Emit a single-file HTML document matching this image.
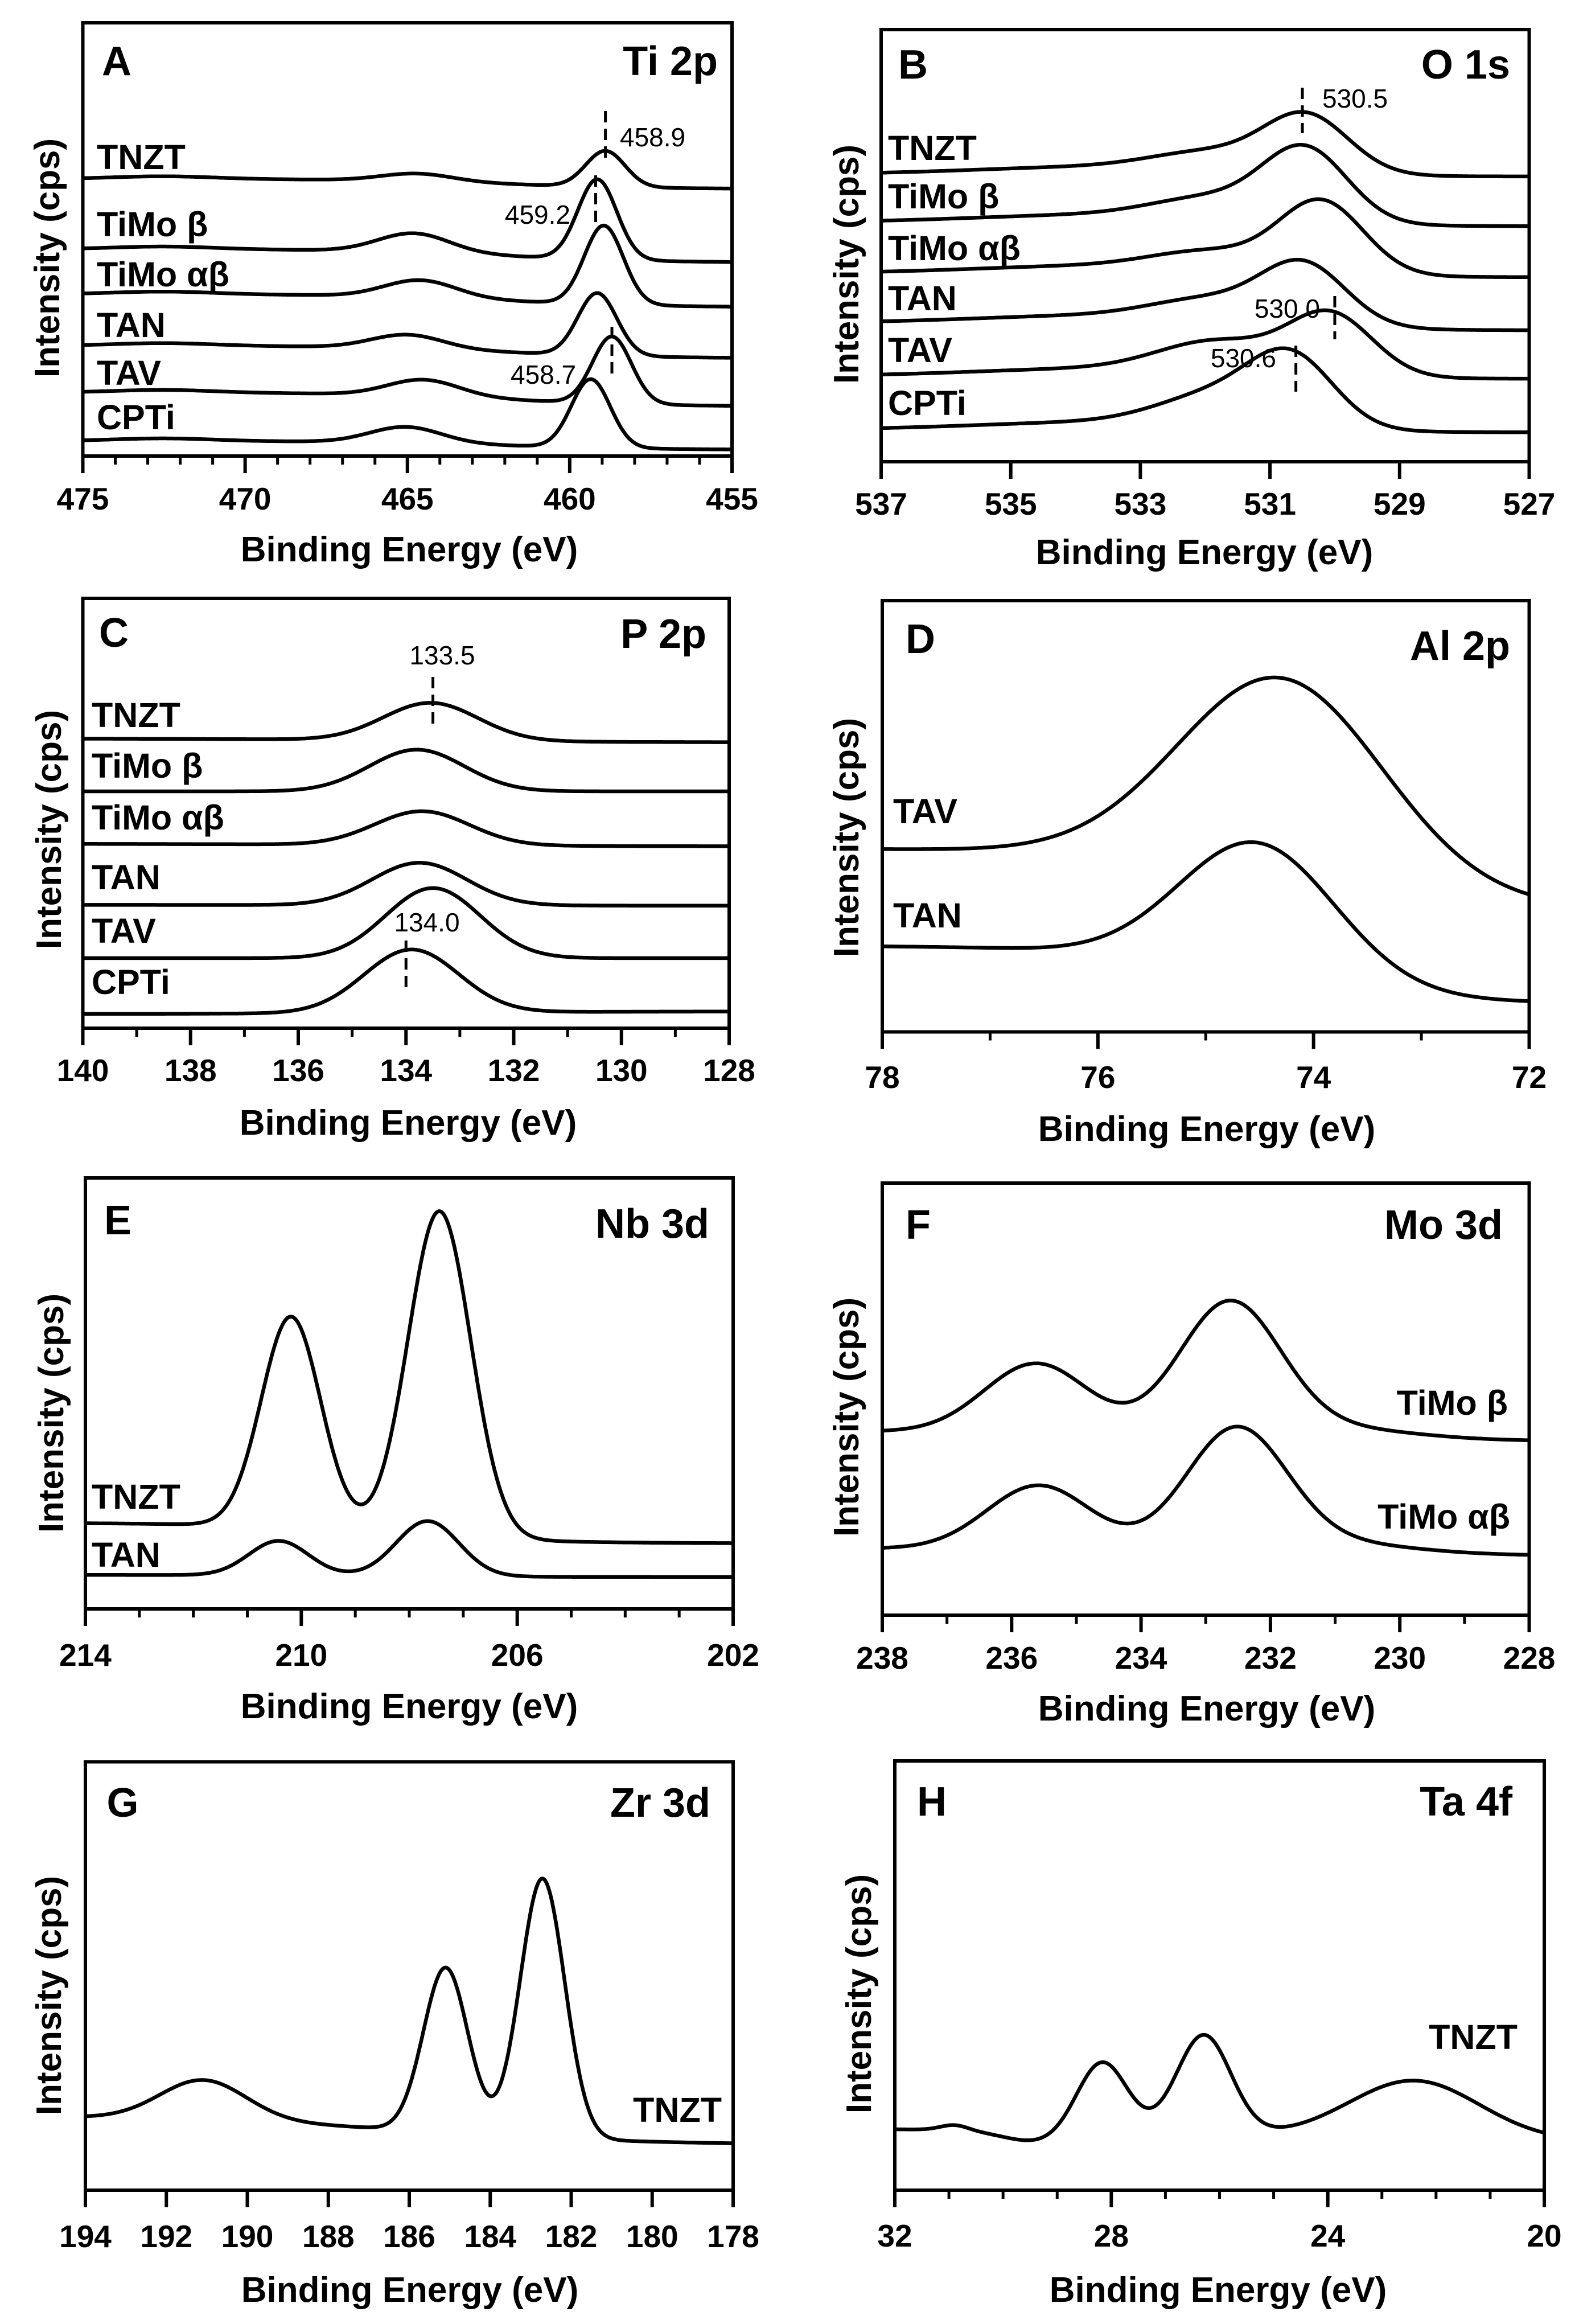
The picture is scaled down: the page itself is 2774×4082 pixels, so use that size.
<!DOCTYPE html>
<html><head><meta charset="utf-8"><style>
html,body{margin:0;padding:0;background:#fff}
svg{display:block}
text{font-family:"Liberation Sans",Arial,sans-serif;fill:#000}
</style></head><body>
<svg id="fig" xmlns="http://www.w3.org/2000/svg" width="2774" height="4082" viewBox="0 0 2774 4082"></svg>
<script>
// ---------- Panel A: Ti 2p ----------
const tiSeries = ["TNZT","TiMo β","TiMo αβ","TAN","TAV","CPTi"];
const tiBaseLeft = [64.0,47.8,37.4,25.5,14.7,3.5];
const tiBaseRight = [61.6,44.6,34.3,22.5,11.4,1.4];
const tiMainPos = [458.9,459.15,458.95,459.15,458.7,459.35];
const tiMainHeight = [8.3,18.5,18.2,14.4,15.5,15.8];
const tiSatPos = [464.7,464.8,464.6,465.0,464.5,465.05];
const tiSatHeight = [1.8,4.4,4.0,3.2,3.8,3.7];
const tiTicks = [475,470,465,460,455];
// ---------- Panel B: O 1s ----------
const oSeries = ["TNZT","TiMo β","TiMo αβ","TAN","TAV","CPTi"];
const oBaseLeft = [66.5,55.4,43.6,32.1,19.8,7.4];
const oBaseRight = [66.0,54.5,42.7,30.4,19.2,6.8];
const oMainPos = [530.43,530.45,530.2,530.47,530.06,530.65];
const oMainHeight = [13.0,16.5,16.5,13.5,14.0,15.0];
const oShoulderPos = [531.9,531.9,531.9,531.9,531.8,531.8];
const oShoulderHeight = [4.0,4.5,4.0,4.5,7.0,7.0];
const oTicks = [537,535,533,531,529,527];
// ---------- Panel C: P 2p ----------
const pSeries = ["TNZT","TiMo β","TiMo αβ","TAN","TAV","CPTi"];
const pBaseLeft = [67.4,55.1,42.9,28.7,16.3,3.3];
const pBaseRight = [66.5,55.1,42.3,28.5,16.3,3.9];
const pPeakPos = [133.54,133.8,133.7,133.75,133.5,133.9];
const pPeakHeight = [8.8,9.7,7.9,9.9,16.3,14.7];
const pTicks = [140,138,136,134,132,130,128];
// ---------- Panel D: Al 2p ----------
const alSeries = ["TAV","TAN"];
const alBaseLeft = [42.5,20.0];
const alBaseRight = [28.5,6.5];
const alPeakPos = [74.28,74.51];
const alPeakHeight = [46.5,30.6];
const alPeakSigma = [0.95,0.72];
const alTicks = [78,76,74,72];
// ---------- Panel E: Nb 3d ----------
const nbSeries = ["TNZT","TAN"];
const nbBaseLeft = [20.0,7.9];
const nbBaseRight = [15.2,7.4];
const nbPeak1Pos = [210.19,210.42];
const nbPeak1Height = [49.0,8.0];
const nbPeak2Pos = [207.44,207.66];
const nbPeak2Height = [75.5,12.8];
const nbTicks = [214,210,206,202];
// ---------- Panel F: Mo 3d ----------
const moSeries = ["TiMo β","TiMo αβ"];
const moBaseLeft = [42.6,15.5];
const moBaseRight = [40.3,13.8];
const moPeak1Pos = [235.62,235.58];
const moPeak1Height = [16.0,14.8];
const moPeak2Pos = [232.63,232.53];
const moPeak2Height = [30.5,28.0];
const moTicks = [238,236,234,232,230,228];
// ---------- Panel G: Zr 3d ----------
const zrSeries = ["TNZT"];
const zrBaseLeft = [17.5];
const zrBaseRight = [10.5];
const zrPeakPos = [191.09,185.1,182.71];
const zrPeakHeight = [9.3,38.5,60.5];
const zrTicks = [194,192,190,188,186,184,182,180,178];
// ---------- Panel H: Ta 4f ----------
const taSeries = ["TNZT"];
const taBaseLeft = [14.5];
const taBaseRight = [11.0];
const taPeakPos = [28.17,26.29,22.4,29.4];
const taPeakHeight = [16.5,23.0,13.5,-2.5];
const taTicks = [32,28,24,20];

const NS="http://www.w3.org/2000/svg";
const svg=document.getElementById('fig');
function mk(tag,attrs,parent){const e=document.createElementNS(NS,tag);for(const k in attrs)e.setAttribute(k,attrs[k]);(parent||svg).appendChild(e);return e;}
function txt(s,attrs,parent){const e=mk('text',attrs,parent);e.textContent=s;return e;}
const g=(E,c,h,s)=>h*Math.exp(-((E-c)*(E-c))/(2*s*s));
const sig=x=>1/(1+Math.exp(-x));

function panel(o){
  const grp=mk('g',{});
  
  
  const xs=E=>o.L+(o.x0-E)/(o.x0-o.x1)*(o.R-o.L);
  const ys=p=>o.B-p/100*(o.B-o.T);
  const fr=mk('rect',{x:o.L,y:o.T,width:o.R-o.L,height:o.B-o.T,fill:'none',stroke:'#000','stroke-width':6},grp);
  
  
  if(o.minor){const n=Math.round((o.x0-o.x1)/o.minor);for(let i=0;i<=n;i++){const E=o.x0-i*o.minor;const t=mk('line',{x1:xs(E),x2:xs(E),y1:o.B,y2:o.B+15,stroke:'#000','stroke-width':5},grp);}}
  o.ticks.forEach(v=>{
    const t=mk('line',{x1:xs(v),x2:xs(v),y1:o.B,y2:o.B+30,stroke:'#000','stroke-width':6},grp);
    
    
    const l=txt(String(v),{x:xs(v),y:o.tickY+20,'text-anchor':'middle','font-size':55,'font-weight':'bold'},grp);
    
    
  });
  const xt=txt('Binding Energy (eV)',{x:o.xtX,y:o.xtY+22,'text-anchor':'middle','font-size':62,'font-weight':'bold'},grp);
  
  
  const yt=txt('Intensity (cps)',{x:0,y:0,'text-anchor':'middle','font-size':62,'font-weight':'bold',transform:`translate(${o.ytX+22},${o.ytY}) rotate(-90)`},grp);
  
  
  const pl=txt(o.letter,{x:o.letterX,y:o.letterY,'font-size':72,'font-weight':'bold'},grp);
  
  
  const el=txt(o.title,{x:o.titleX,y:o.titleY,'text-anchor':'end','font-size':72,'font-weight':'bold'},grp);
  
  
  o.series.forEach((s,i)=>{
    let d='';const N=500;
    for(let k=0;k<=N;k++){const E=o.x0-(o.x0-o.x1)*k/N;const v=o.f(E,i);d+=(k?'L':'M')+xs(E).toFixed(1)+','+ys(v).toFixed(1);}
    const p=mk('path',{d:d,fill:'none',stroke:'#000','stroke-width':6.5,'stroke-linejoin':'round'},grp);
    
    
    const lb=o.labels[i];
    const t=txt(s,{x:lb[0],y:lb[1],'font-size':61,'font-weight':'bold','text-anchor':lb[2]||'start'},grp);
    
    
  });
  (o.annots||[]).forEach(a=>{
    const x=xs(a.E);
    const dl=mk('line',{x1:x,x2:x,y1:a.y1,y2:a.y2,stroke:'#000','stroke-width':5,'stroke-dasharray':'20 11'},grp);
    
    
    const t=txt(a.E.toFixed(1),{x:a.tx,y:a.ty,'font-size':46,'text-anchor':a.anchor},grp);
    
    
  });
}

const base=(E,l,r,c,w)=>r+(l-r)*sig((E-c)/w);

panel({name:'panel-a-ti2p',L:145.5,R:1286,T:40,B:801,x0:475,x1:455,ticks:tiTicks,minor:1,tickY:875,xtX:719,xtY:964,ytX:82,ytY:453,
 letter:'A',letterX:179,letterY:132,title:'Ti 2p',titleX:1261,titleY:132,series:tiSeries,
 f:(E,i)=>base(E,tiBaseLeft[i],tiBaseRight[i],462,2.5)+g(E,tiMainPos[i],tiMainHeight[i],0.6)+g(E,tiSatPos[i],tiSatHeight[i],1.1)+g(E,472.5,0.6,1.5),
 labels:[[170,297],[170,415],[170,503],[170,592],[170,676],[170,754]],
 annots:[{E:458.9,y1:195,y2:281,tx:1089,ty:257,anchor:'start'},{E:459.2,y1:308,y2:393,tx:1002,ty:393,anchor:'end'},{E:458.7,y1:574,y2:665,tx:897,ty:674,anchor:'start'}]});

panel({name:'panel-b-o1s',L:1548,R:2686.5,T:52,B:811,x0:537,x1:527,ticks:oTicks,minor:0,tickY:884,xtX:2116,xtY:969,ytX:1486,ytY:464,
 letter:'B',letterX:1578,letterY:138,title:'O 1s',titleX:2653,titleY:138,series:oSeries,
 f:(E,i)=>base(E,oBaseLeft[i],oBaseRight[i],530.5,0.8)+g(E,oMainPos[i],oMainHeight[i],0.65)+g(E,oShoulderPos[i],oShoulderHeight[i],0.9)+g(E,533.5,1.8,2.0),
 labels:[[1560,281],[1560,366],[1560,457],[1560,545],[1560,636],[1560,729]],
 annots:[{E:530.5,y1:154,y2:234,tx:2323,ty:189,anchor:'start'},{E:530.0,y1:520,y2:596,tx:2319,ty:558,anchor:'end'},{E:530.6,y1:607,y2:688,tx:2242,ty:645,anchor:'end'}]});

panel({name:'panel-c-p2p',L:145.5,R:1281,T:1051,B:1806,x0:140,x1:128,ticks:pTicks,minor:1,tickY:1879,xtX:717,xtY:1971,ytX:85,ytY:1457,
 letter:'C',letterX:174,letterY:1136,title:'P 2p',titleX:1241,titleY:1138,series:pSeries,
 f:(E,i)=>base(E,pBaseLeft[i],pBaseRight[i],134,2)+g(E,pPeakPos[i],pPeakHeight[i],0.88),
 labels:[[161,1277],[161,1366],[161,1457],[161,1562],[161,1656],[161,1746]],
 annots:[{E:133.5,y1:1189,y2:1279,tx:777,ty:1167,anchor:'middle'},{E:134.0,y1:1652,y2:1741,tx:750,ty:1636,anchor:'middle'}]});

panel({name:'panel-d-al2p',L:1550,R:2686.5,T:1055,B:1812.5,x0:78,x1:72,ticks:alTicks,minor:1,tickY:1891,xtX:2120,xtY:1982,ytX:1486,ytY:1471,
 letter:'D',letterX:1591,letterY:1147,title:'Al 2p',titleX:2653,titleY:1159,series:alSeries,
 f:(E,i)=>base(E,alBaseLeft[i],alBaseRight[i],alPeakPos[i],0.8)+g(E,alPeakPos[i],alPeakHeight[i],alPeakSigma[i]),
 labels:[[1569,1446],[1569,1629]]});

panel({name:'panel-e-nb3d',L:150,R:1288,T:2069,B:2826,x0:214,x1:202,ticks:nbTicks,minor:1,tickY:2906,xtX:719,xtY:2996,ytX:89,ytY:2482,
 letter:'E',letterX:183,letterY:2168,title:'Nb 3d',titleX:1246,titleY:2174,series:nbSeries,
 f:(E,i)=>base(E,nbBaseLeft[i],nbBaseRight[i],208.5,1.5)+g(E,nbPeak1Pos[i],nbPeak1Height[i],0.55)+g(E,nbPeak2Pos[i],nbPeak2Height[i],0.58),
 labels:[[161,2650],[161,2752]]});

panel({name:'panel-f-mo3d',L:1550,R:2686.5,T:2078,B:2837,x0:238,x1:228,ticks:moTicks,minor:1,tickY:2911,xtX:2120,xtY:3000,ytX:1486,ytY:2489,
 letter:'F',letterX:1591,letterY:2176,title:'Mo 3d',titleX:2640,titleY:2176,series:moSeries,
 f:(E,i)=>base(E,moBaseLeft[i],moBaseRight[i],233,1.5)+g(E,moPeak1Pos[i],moPeak1Height[i],0.8)+g(E,moPeak2Pos[i],moPeak2Height[i],0.78)+g(E,231,2.5,1.2),
 labels:[[2649,2485,'end'],[2653,2685,'end']]});

panel({name:'panel-g-zr3d',L:150,R:1288,T:3094.5,B:3847,x0:194,x1:178,ticks:zrTicks,minor:0,tickY:3927,xtX:720,xtY:4021,ytX:85,ytY:3505,
 letter:'G',letterX:187.5,letterY:3191,title:'Zr 3d',titleX:1248,titleY:3191,series:zrSeries,
 f:(E,i)=>base(E,zrBaseLeft[i],zrBaseRight[i],186,3)+g(E,zrPeakPos[0],zrPeakHeight[0],1.06)+g(E,zrPeakPos[1],zrPeakHeight[1],0.55)+g(E,zrPeakPos[2],zrPeakHeight[2],0.55),
 labels:[[1268,3727,'end']]});

panel({name:'panel-h-ta4f',L:1572,R:2713,T:3093,B:3847,x0:32,x1:20,ticks:taTicks,minor:1,tickY:3926,xtX:2140,xtY:4021,ytX:1508,ytY:3502,
 letter:'H',letterX:1611,letterY:3189,title:'Ta 4f',titleX:2657,titleY:3189,series:taSeries,
 f:(E,i)=>base(E,taBaseLeft[i],taBaseRight[i],25,3)+g(E,taPeakPos[0],taPeakHeight[0],0.46)+g(E,taPeakPos[1],taPeakHeight[1],0.5)+g(E,taPeakPos[2],taPeakHeight[2],1.2)+g(E,taPeakPos[3],taPeakHeight[3],0.6)+g(E,30.9,1.2,0.25),
 labels:[[2666,3599,'end']]});
</script>
</body></html>
